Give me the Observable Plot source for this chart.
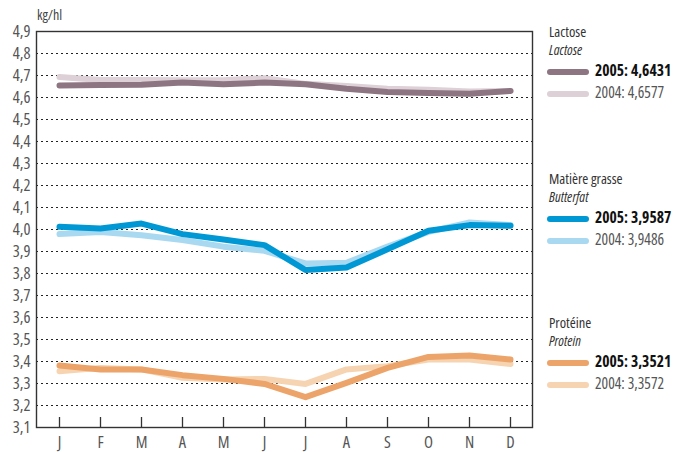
<!DOCTYPE html>
<html>
<head>
<meta charset="utf-8">
<script src="https://cdn.jsdelivr.net/npm/d3@7"></script>
<script src="https://cdn.jsdelivr.net/npm/@observablehq/plot@0.6"></script>
<style>
  html, body { margin: 0; padding: 0; background: #fff; }
  #chart { position: relative; width: 682px; height: 452px; }
  #chart svg text { font-stretch: 75%; }
</style>
</head>
<body>
<div id="chart"></div>
<script>
const months = ["J","F","M","A","M ","J ","J  ","A ","S","O","N","D"];
const monthLabels = ["J","F","M","A","M","J","J","A","S","O","N","D"];
const yTicks = [3.1,3.2,3.3,3.4,3.5,3.6,3.7,3.8,3.9,4.0,4.1,4.2,4.3,4.4,4.5,4.6,4.7,4.8,4.9];
const gridVals = [3.2,3.3,3.4,3.5,3.6,3.7,3.8,3.9,4.0,4.1,4.2,4.3,4.4,4.5,4.6,4.7,4.8];

const lactose2005 = [4.655,4.657,4.658,4.668,4.660,4.668,4.660,4.640,4.625,4.620,4.617,4.630];
const lactose2004 = [4.693,4.680,4.680,4.678,4.678,4.688,4.662,4.652,4.640,4.635,4.627,4.630];
const fat2005 = [4.012,4.005,4.027,3.979,3.955,3.929,3.816,3.827,3.910,3.994,4.020,4.017];
const fat2004 = [3.979,3.989,3.974,3.952,3.922,3.903,3.846,3.849,3.922,3.989,4.032,4.020];
const prot2005 = [3.382,3.364,3.364,3.338,3.321,3.298,3.238,3.303,3.371,3.421,3.427,3.409];
const prot2004 = [3.356,3.371,3.364,3.326,3.318,3.321,3.298,3.364,3.379,3.409,3.409,3.389];

const colors = {
  lac05: "#8e7582", lac04: "#ddd0d6",
  fat05: "#0098d4", fat04: "#a9d9f1",
  pro05: "#eca46a", pro04: "#f6d4b2"
};

const legendGroups = [
  {title: "Lactose", sub: "Lactose", y: 33, c05: colors.lac05, c04: colors.lac04, v05: "4,6431", v04: "4,6577"},
  {title: "Matière grasse", sub: "Butterfat", y: 180, c05: colors.fat05, c04: colors.fat04, v05: "3,9587", v04: "3,9486"},
  {title: "Protéine", sub: "Protein", y: 324, c05: colors.pro05, c04: colors.pro04, v05: "3,3521", v04: "3,3572"}
];

const series = [
  {key: "lac04", values: lactose2004},
  {key: "fat04", values: fat2004},
  {key: "pro04", values: prot2004},
  {key: "lac05", values: lactose2005},
  {key: "fat05", values: fat2005},
  {key: "pro05", values: prot2005}
];
const rows = series.flatMap(s => s.values.map((v, i) => ({key: s.key, month: months[i], value: v})));

const FONT = "'Open Sans', 'DejaVu Sans Condensed', sans-serif";

const plot = Plot.plot({
  width: 682,
  height: 452,
  marginLeft: 36,
  marginRight: 150,
  marginTop: 31,
  marginBottom: 25,
  style: {fontFamily: FONT, fontSize: "16px", color: "#444", background: "#fff"},
  x: {type: "point", domain: months, padding: 0.5},
  y: {domain: [3.1, 4.9]},
  marks: [
    Plot.ruleY(gridVals, {stroke: "#222", strokeWidth: 1.2, strokeDasharray: "2,3"}),
    Plot.axisY({ticks: yTicks, tickSize: 0, tickPadding: 6, tickFormat: d => d.toFixed(1).replace(".", ","), label: null, fill: "#555", fontSize: 16.5}),
    Plot.axisX({tickSize: 10, dy: -10, text: null, stroke: "#333", strokeWidth: 1.3, label: null}),
    Plot.axisX({tickSize: 0, tickPadding: 9, tickFormat: (d, i) => monthLabels[i], label: null, fill: "#555", fontSize: 16.5}),
    ...series.map(s => Plot.line(rows.filter(r => r.key === s.key), {
      x: "month", y: "value", stroke: colors[s.key], strokeWidth: 6, strokeLinecap: "round", strokeLinejoin: "round"
    })),
    Plot.frame({stroke: "#333", strokeWidth: 1.4})
  ]
});

document.getElementById("chart").appendChild(plot);

const svg = d3.select(plot);
svg.append("text").attr("x", 37).attr("y", 16).attr("dominant-baseline", "middle").attr("text-anchor", "start")
  .attr("font-family", FONT).attr("font-size", 14).attr("fill", "#444").text("kg/hl");

const lg = svg.append("g").attr("font-family", FONT).attr("text-anchor", "start");
legendGroups.forEach(g => {
  lg.append("text").attr("x", 549).attr("y", g.y).attr("dominant-baseline", "middle")
    .attr("font-size", 14.5).attr("fill", "#333").text(g.title);
  lg.append("text").attr("x", 549).attr("y", g.y + 18).attr("dominant-baseline", "middle")
    .attr("font-size", 14).attr("font-style", "italic").attr("fill", "#333").text(g.sub);
  lg.append("line").attr("x1", 550).attr("x2", 586).attr("y1", g.y + 39).attr("y2", g.y + 39)
    .attr("stroke", g.c05).attr("stroke-width", 6).attr("stroke-linecap", "round");
  lg.append("text").attr("x", 595).attr("y", g.y + 39).attr("dominant-baseline", "middle")
    .attr("font-size", 15.5).attr("font-weight", "bold").attr("fill", "#111").text("2005: " + g.v05);
  lg.append("line").attr("x1", 550).attr("x2", 586).attr("y1", g.y + 61).attr("y2", g.y + 61)
    .attr("stroke", g.c04).attr("stroke-width", 6).attr("stroke-linecap", "round");
  lg.append("text").attr("x", 595).attr("y", g.y + 61).attr("dominant-baseline", "middle")
    .attr("font-size", 15.5).attr("fill", "#555").text("2004: " + g.v04);
});
</script>
</body>
</html>
